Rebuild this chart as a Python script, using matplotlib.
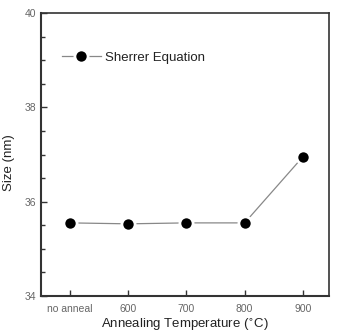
import matplotlib
matplotlib.use('Agg')
import matplotlib.pyplot as plt
from matplotlib.ticker import MultipleLocator

plt.rcParams['font.family'] = ['Liberation Sans', 'DejaVu Sans']

# data
categories = ['no anneal', '600', '700', '800', '900']
size_nm = [35.55, 35.53, 35.55, 35.55, 36.95]

fig = plt.figure(figsize=(3.37, 3.34), dpi=100)
ax = fig.add_axes([41/337, 1 - 296/334, (329-41)/337, (296-13)/334])

x = list(range(len(categories)))
ax.plot(x, size_nm, color='#888888', lw=0.9, marker='o', ms=9.5,
        mfc='black', mec='white', mew=2.0, label='Sherrer Equation')

ax.set_xlim(-0.5, 4.45)
ax.set_ylim(34, 40)
ax.set_xticks(x)
ax.set_xticklabels(categories)
ax.yaxis.set_major_locator(MultipleLocator(2))
ax.yaxis.set_minor_locator(MultipleLocator(0.5))

ax.tick_params(axis='both', which='both', direction='in', colors='#333333',
               labelcolor='#666666', labelsize=7.5, width=1.0)
ax.tick_params(which='major', length=4)
ax.tick_params(which='minor', length=3)
ax.tick_params(axis='x', pad=6)

for s in ax.spines.values():
    s.set_color('#333333')
    s.set_linewidth(1.2)
ax.spines['left'].set_linewidth(1.5)
ax.spines['bottom'].set_linewidth(1.5)

ax.set_xlabel('Annealing Temperature ($^{\\circ}$C)', fontsize=9.5, color='#222222', labelpad=2)
ax.set_ylabel('Size (nm)', fontsize=9.5, color='#222222')
ax.yaxis.set_label_coords(-0.09, 0.47)

ax.legend(loc='upper left', bbox_to_anchor=(0.03, 0.905), frameon=False,
          fontsize=9.5, handlelength=3.0, handletextpad=0.3, labelcolor='#222222')

fig.savefig('out.png', dpi=100)
